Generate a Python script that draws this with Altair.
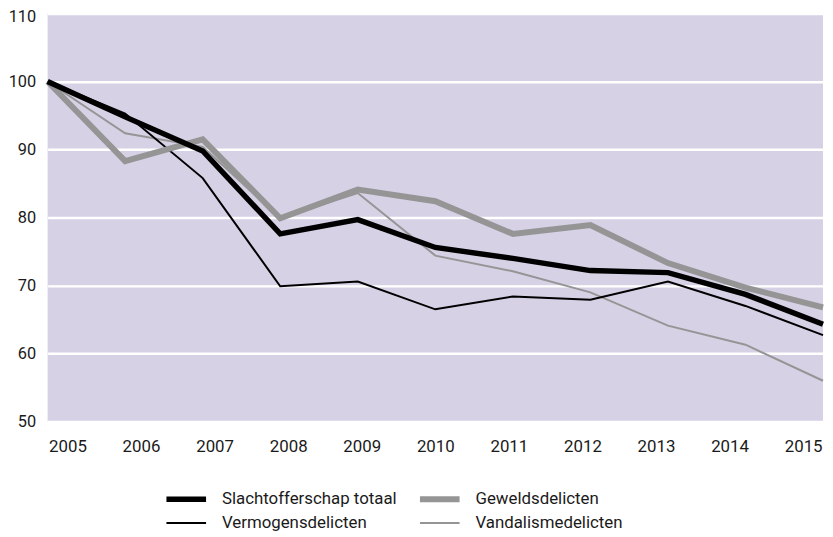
import altair as alt
import pandas as pd

years = [2005, 2006, 2007, 2008, 2009, 2010, 2011, 2012, 2013, 2014, 2015]
totaal = [100, 94.8, 89.8, 77.6, 79.7, 75.6, 74.0, 72.2, 71.9, 68.7, 64.3]
geweld = [100, 88.3, 91.5, 79.9, 84.1, 82.4, 77.6, 78.9, 73.3, 69.7, 66.8]
vermogen = [100, 95.3, 85.8, 69.9, 70.6, 66.5, 68.4, 67.9, 70.6, 67.0, 62.7]
vandalisme = [100, 92.4, 90.4, 79.9, 83.6, 74.4, 72.1, 69.0, 64.1, 61.3, 56.0]

# legend fills column-major: column 1 = totaal, vermogen; column 2 = geweld, vandalisme
series_names = ["Slachtofferschap totaal", "Vermogensdelicten", "Geweldsdelicten", "Vandalismedelicten"]
series_colors = ["#000000", "#000000", "#959595", "#959595"]
series_widths = [5.5, 2, 6, 2]
y_ticks = [50, 60, 70, 80, 90, 100, 110]

# draw order: thin grey, thin black, thick grey, thick black
rows = []
for name, vals in [("Vandalismedelicten", vandalisme), ("Vermogensdelicten", vermogen),
                   ("Geweldsdelicten", geweld), ("Slachtofferschap totaal", totaal)]:
    for y, v in zip(years, vals):
        rows.append({"year": y, "value": v, "series": name})
df = pd.DataFrame(rows)
years_df = pd.DataFrame({"year": years})

FONT = "Roboto"

legend = alt.Legend(
    title=None, orient="none", legendX=117, legendY=482, columns=2,
    symbolType="stroke", symbolSize=1600, labelFont=FONT, labelFontSize=17,
    labelColor="#1a1a1a", labelOffset=13, columnPadding=20, rowPadding=6,
    clipHeight=17, padding=0, labelLimit=400,
)

lines = alt.Chart(df).mark_line(strokeJoin="miter", strokeCap="butt").encode(
    x=alt.X("year:Q", scale=alt.Scale(domain=[2005, 2015], nice=False, zero=False), axis=None),
    y=alt.Y("value:Q", scale=alt.Scale(domain=[50, 110], nice=False, zero=False),
            axis=alt.Axis(title=None, values=y_ticks, grid=True, gridColor="white", gridWidth=2.5,
                          domain=False, ticks=False, labelFont=FONT, labelFontSize=16.5,
                          labelColor="#1a1a1a", labelPadding=12,
                          labelOffset=alt.ExprRef(expr="datum.value == 110 ? 3 : 0"))),
    color=alt.Color("series:N", scale=alt.Scale(domain=series_names, range=series_colors), legend=legend),
    strokeWidth=alt.StrokeWidth("series:N",
                                scale=alt.Scale(type="ordinal", domain=series_names, range=series_widths),
                                legend=legend),
    detail="series:N",
)

xaxis = alt.Chart(years_df).mark_point(opacity=0).encode(
    x=alt.X("year:Q", scale=alt.Scale(domain=[2004.73, 2015.27], nice=False, zero=False),
            axis=alt.Axis(title=None, orient="bottom", values=years, format="d", grid=False,
                          domain=False, ticks=False, labelFont=FONT, labelFontSize=17,
                          labelColor="#1a1a1a", labelPadding=17)),
)

chart = alt.layer(lines, xaxis).resolve_scale(x="independent").properties(
    width=783, height=412,
    background="white",
    autosize=alt.AutoSizeParams(type="none"),
    padding={"left": 40, "top": 3, "right": 2, "bottom": 114},
).configure_view(fill="#d6d1e5", stroke=None)

chart.save("out.html", embed_options={"renderer": "svg", "actions": False})
